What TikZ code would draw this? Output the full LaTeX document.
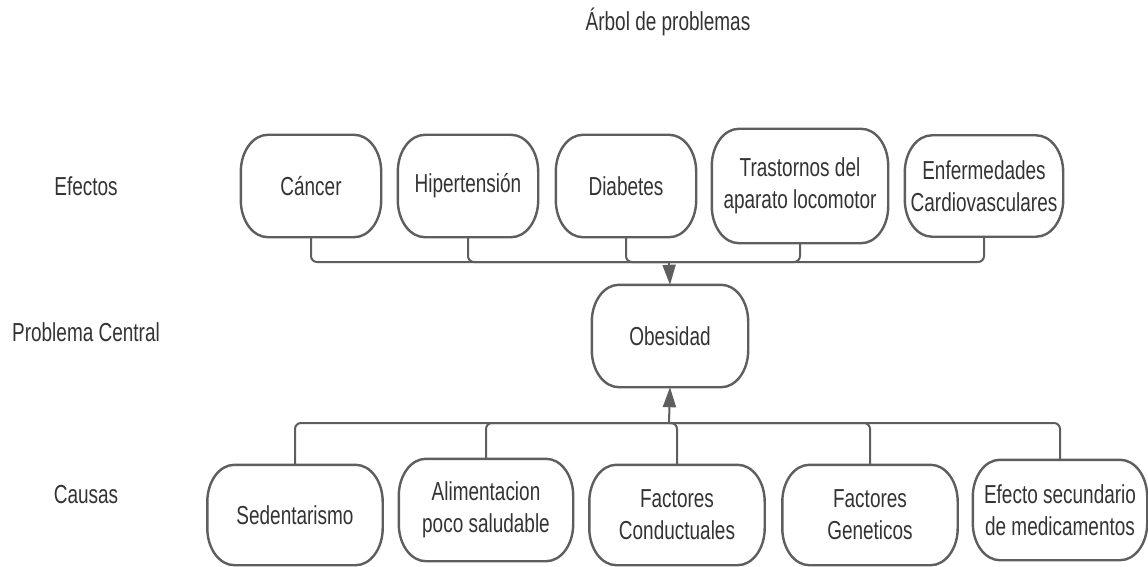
\documentclass[tikz,border=0pt]{standalone}
\usepackage{fontspec}
\setmainfont{Liberation Sans}[FakeStretch=0.73]
\usepackage{tikz}
\usetikzlibrary{arrows.meta}
\definecolor{linegray}{HTML}{5E5E5E}
\definecolor{textgray}{HTML}{333333}
\def\rx{27pt}
\def\ry{37pt}
\tikzset{
  every node/.style={font=\fontsize{26}{32}\selectfont, text=textgray},
  borde/.style={draw=linegray, line width=2.4pt},
  caja/.style={align=center, inner sep=2pt, minimum height=102pt, minimum width=140pt,
    append after command={\pgfextra{\draw[borde]
      ([xshift=\rx]\tikzlastnode.north west) -- ([xshift=-\rx]\tikzlastnode.north east)
      arc[start angle=90, end angle=0, x radius=\rx, y radius=\ry]
      -- ([yshift=\ry]\tikzlastnode.south east)
      arc[start angle=0, end angle=-90, x radius=\rx, y radius=\ry]
      -- ([xshift=\rx]\tikzlastnode.south west)
      arc[start angle=270, end angle=180, x radius=\rx, y radius=\ry]
      -- ([yshift=-\ry]\tikzlastnode.north west)
      arc[start angle=180, end angle=90, x radius=\rx, y radius=\ry] -- cycle;}}},
  enlace/.style={draw=linegray, line width=2pt, rounded corners=6pt},
  flecha/.style={-{Triangle[length=20pt,width=13pt]}},
}

\begin{document}
\begin{tikzpicture}[x=1pt,y=-1pt]
    \useasboundingbox (0,0) rectangle (1148,567);
    \node (titulo) at (668,22) {Árbol de problemas};
    \node (efectos) at (86,186) {Efectos};
    \node (central) at (86,332) {Problema Central};
    \node (causas) at (86,495) {Causas};

    % efectos
    \node[caja] (canc) at (311,186) {Cáncer};
    \node[caja] (hiper) at (468,186) {Hipertensión};
    \node[caja] (diab) at (626,186) {Diabetes};
    \node[caja, minimum width=176pt, minimum height=114pt] (trast) at (800,186) {Trastornos del\\aparato locomotor};
    \node[caja, minimum width=158pt, minimum height=101pt] (enferm) at (984,186) {Enfermedades\\Cardiovasculares};

    % problema central
    \node[caja, minimum width=156pt] (obes) at (670,336) {Obesidad};

    % causas
    \node[caja, minimum width=175pt, minimum height=100pt] (sedent) at (295,515) {Sedentarismo};
    \node[caja, minimum width=174pt] (aliment) at (486,510) {Alimentacion\\poco saludable};
    \node[caja, minimum width=175pt, minimum height=100pt] (conduct) at (677,515) {Factores\\Conductuales};
    \node[caja, minimum width=175pt, minimum height=100pt] (genet) at (870,515) {Factores\\Geneticos};
    \node[caja, minimum width=174pt, minimum height=100pt] (medic) at (1060,510) {Efecto secundario\\de medicamentos};

    \coordinate (arriba) at (669,262);
    \coordinate (abajo) at (669,423);

    \foreach \n in {canc,hiper,diab,trast,enferm}
      \draw[enlace] (\n.south) |- (arriba);
    \draw[enlace,flecha] (arriba) -- (obes.north);

    \foreach \n in {sedent,aliment,conduct,genet,medic}
      \draw[enlace] (\n.north) |- (abajo);
    \draw[enlace,flecha] (abajo) -- (obes.south);
\end{tikzpicture}
\end{document}
